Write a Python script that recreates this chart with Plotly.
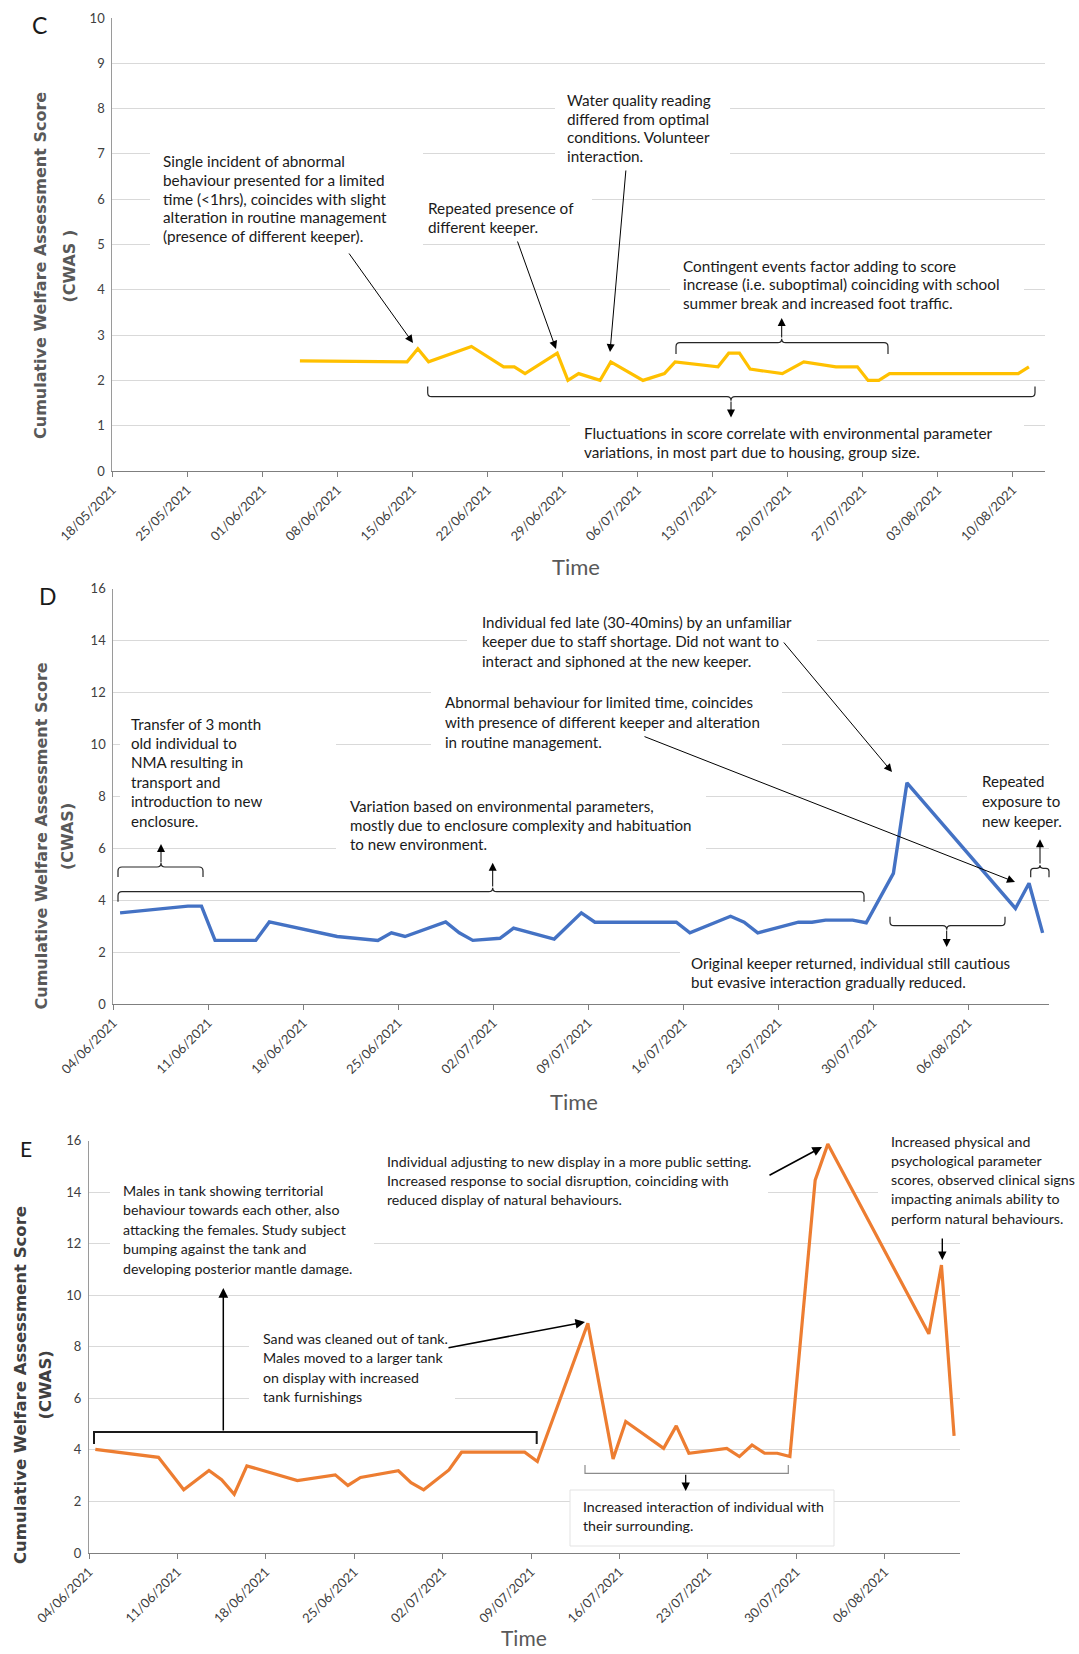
import plotly.graph_objects as go
import pandas as pd

W, H = 1079, 1654

# ---------------- data ----------------
dates_c = ["2021-06-04", "2021-06-14", "2021-06-15", "2021-06-16", "2021-06-20", "2021-06-23",
           "2021-06-24", "2021-06-25", "2021-06-28", "2021-06-29", "2021-06-30", "2021-07-02",
           "2021-07-03", "2021-07-06", "2021-07-08", "2021-07-09", "2021-07-13", "2021-07-14",
           "2021-07-15", "2021-07-16", "2021-07-19", "2021-07-21", "2021-07-24", "2021-07-26",
           "2021-07-27", "2021-07-28", "2021-07-29", "2021-08-10", "2021-08-11"]
cwas_c = [2.43, 2.41, 2.7, 2.41, 2.75, 2.3, 2.3, 2.15, 2.6, 2.0, 2.15, 2.0, 2.41, 2.0, 2.15,
          2.41, 2.3, 2.6, 2.6, 2.25, 2.15, 2.41, 2.3, 2.3, 2.0, 2.0, 2.15, 2.15, 2.3]

dates_d = ["2021-06-04", "2021-06-09", "2021-06-10", "2021-06-11", "2021-06-14", "2021-06-15",
           "2021-06-20", "2021-06-23", "2021-06-24", "2021-06-25", "2021-06-28", "2021-06-29",
           "2021-06-30", "2021-07-02", "2021-07-03", "2021-07-06", "2021-07-08", "2021-07-09",
           "2021-07-15", "2021-07-16", "2021-07-19", "2021-07-20", "2021-07-21", "2021-07-24",
           "2021-07-25", "2021-07-26", "2021-07-28", "2021-07-29", "2021-07-31", "2021-08-01",
           "2021-08-09", "2021-08-10", "2021-08-11"]
cwas_d = [3.51, 3.77, 3.77, 2.45, 2.45, 3.16, 2.6, 2.45, 2.74, 2.6, 3.16, 2.74, 2.45, 2.53,
          2.92, 2.5, 3.51, 3.15, 3.15, 2.74, 3.38, 3.15, 2.74, 3.15, 3.15, 3.23, 3.23, 3.13,
          5.03, 8.52, 3.68, 4.65, 2.74]

dates_e = ["2021-06-04", "2021-06-09", "2021-06-11", "2021-06-13", "2021-06-14", "2021-06-15",
           "2021-06-16", "2021-06-20", "2021-06-23", "2021-06-24", "2021-06-25", "2021-06-28",
           "2021-06-29", "2021-06-30", "2021-07-02", "2021-07-03", "2021-07-08", "2021-07-09",
           "2021-07-13", "2021-07-15", "2021-07-16", "2021-07-19", "2021-07-20", "2021-07-21",
           "2021-07-24", "2021-07-25", "2021-07-26", "2021-07-27", "2021-07-28", "2021-07-29",
           "2021-07-31", "2021-08-01", "2021-08-09", "2021-08-10", "2021-08-11"]
cwas_e = [4.02, 3.71, 2.45, 3.2, 2.84, 2.28, 3.38, 2.81, 3.03, 2.62, 2.93, 3.19, 2.73, 2.45,
          3.22, 3.91, 3.91, 3.55, 8.91, 3.65, 5.1, 4.06, 4.93, 3.87, 4.06, 3.74, 4.19, 3.87,
          3.87, 3.74, 14.46, 15.86, 8.5, 11.17, 4.54]

ticks_c = ["18/05/2021", "25/05/2021", "01/06/2021", "08/06/2021", "15/06/2021", "22/06/2021",
           "29/06/2021", "06/07/2021", "13/07/2021", "20/07/2021", "27/07/2021", "03/08/2021",
           "10/08/2021"]
ticks_de = ["04/06/2021", "11/06/2021", "18/06/2021", "25/06/2021", "02/07/2021", "09/07/2021",
            "16/07/2021", "23/07/2021", "30/07/2021", "06/08/2021"]

y_title = "Cumulative Welfare Assessment Score"

# ---------------- helpers ----------------
HALF = pd.Timedelta(hours=12)  # Excel date axis: points sit mid-day between tick marks


def tickpos(labels):
    return [pd.to_datetime(t, dayfirst=True) - HALF for t in labels]


def X(x):
    return x / W


def Y(y):
    return 1 - y / H


TICKFONT = dict(family="Lato", size=13, color="#404040")
fig = go.Figure()

fig.add_trace(go.Scatter(x=pd.to_datetime(dates_c), y=cwas_c, mode="lines",
                         line=dict(color="#FFC000", width=3.2), xaxis="x", yaxis="y",
                         hoverinfo="skip"))
fig.add_trace(go.Scatter(x=pd.to_datetime(dates_d), y=cwas_d, mode="lines",
                         line=dict(color="#4472C4", width=3.4), xaxis="x2", yaxis="y2",
                         hoverinfo="skip"))
fig.add_trace(go.Scatter(x=pd.to_datetime(dates_e), y=cwas_e, mode="lines",
                         line=dict(color="#ED7D31", width=3.2), xaxis="x3", yaxis="y3",
                         hoverinfo="skip"))


def xax(domain, labels, rng, anchor):
    return dict(domain=domain, anchor=anchor, type="date", range=rng, automargin=False,
                tickvals=tickpos(labels), ticktext=labels, tickangle=-45,
                tickfont=TICKFONT, showgrid=False, zeroline=False,
                showline=True, linecolor="#7f7f7f", linewidth=1.3,
                ticks="outside", ticklen=5, tickcolor="#7f7f7f", tickwidth=1)


def yax(domain, rng, dtick, anchor):
    return dict(domain=domain, anchor=anchor, range=rng, dtick=dtick, tick0=0, automargin=False,
                tickfont=TICKFONT, showgrid=True, gridcolor="#d9d9d9", gridwidth=1,
                zeroline=False, showline=True, linecolor="#9a9a9a", linewidth=1,
                ticks="", ticklabelstandoff=4)


rng_c = [pd.Timestamp("2021-05-18") - HALF, pd.Timestamp("2021-08-13") - HALF]
rng_de = [pd.Timestamp("2021-06-04") - HALF, pd.Timestamp("2021-08-12") - HALF]

fig.update_layout(
    template="none",
    width=W, height=H, margin=dict(l=0, r=0, t=0, b=0, autoexpand=False),
    paper_bgcolor="white", plot_bgcolor="white", showlegend=False,
    xaxis=xax([X(112.3), X(1045)], ticks_c, rng_c, "y"),
    yaxis=yax([Y(471), Y(18)], [0, 10], 1, "x"),
    xaxis2=xax([X(113.3), X(1049.4)], ticks_de, rng_de, "y2"),
    yaxis2=yax([Y(1004), Y(588.6)], [0, 16], 2, "x2"),
    xaxis3=xax([X(89), X(960.4)], ticks_de, rng_de, "y3"),
    yaxis3=yax([Y(1553), Y(1140.5)], [0, 16], 2, "x3"),
)

annots = []
shapes = []


def box(x0, y0, x1, y1, border=None):
    shapes.append(dict(type="rect", xref="paper", yref="paper", x0=X(x0), x1=X(x1),
                       y0=Y(y1), y1=Y(y0), fillcolor="white",
                       line=dict(width=1 if border else 0, color=border or "white"),
                       layer="above"))


def note(x_left, y_first, y_last, lines, size=15, color="#1a1a1a"):
    n = len(lines)
    step = (y_last - y_first) / (n - 1) if n > 1 else 0
    for i, s in enumerate(lines):
        annots.append(dict(xref="paper", yref="paper", x=X(x_left - 1), y=Y(y_first + i * step),
                           xanchor="left", yanchor="middle", align="left", text=s,
                           showarrow=False, font=dict(family="Lato", size=size, color=color)))


def arrow(tx, ty, hx, hy, width=1.0, color="black", size=1.6, head=2):
    annots.append(dict(xref="paper", yref="paper", x=X(hx), y=Y(hy), ax=tx - hx, ay=ty - hy,
                       axref="pixel", ayref="pixel", text="", showarrow=True,
                       arrowhead=head, arrowsize=size, arrowwidth=width, arrowcolor=color,
                       standoff=0, startstandoff=0))


def P(x, y):
    return f"{X(x):.5f},{Y(y):.5f}"


def brace(x0, x1, yh, yend, xm=None, color="#262626", width=1.2, r=4):
    d = 1 if yend > yh else -1
    s = f"M {P(x0, yend)} L {P(x0, yh + d * r)} Q {P(x0, yh)} {P(x0 + r, yh)}"
    if xm is not None:
        s += f" L {P(xm - r, yh)} Q {P(xm, yh)} {P(xm, yh - d * r)} Q {P(xm, yh)} {P(xm + r, yh)}"
    s += f" L {P(x1 - r, yh)} Q {P(x1, yh)} {P(x1, yh + d * r)} L {P(x1, yend)}"
    shapes.append(dict(type="path", xref="paper", yref="paper", path=s,
                       line=dict(color=color, width=width), layer="above"))


def rot(x, y, s, size=16, color="#595959"):
    annots.append(dict(xref="paper", yref="paper", x=X(x), y=Y(y), xanchor="center",
                       yanchor="middle", text=s, textangle=-90, showarrow=False,
                       font=dict(family="DejaVu Sans", size=size, color=color, weight="bold")))


def label(x, y, s, size=22, color="#1a1a1a"):
    annots.append(dict(xref="paper", yref="paper", x=X(x), y=Y(y), xanchor="center",
                       yanchor="middle", text=s, showarrow=False,
                       font=dict(family="Lato", size=size, color=color)))


# ---------------- panel C ----------------
FC = 15.3
box(150, 146, 423, 250)
box(412, 195, 592, 240)
box(555, 88, 730, 170)
box(670, 254, 1024, 315)
box(570, 420, 1024, 462)
note(162, 161, 236, ["Single incident of abnormal", "behaviour presented for a limited",
                     "time (&lt;1hrs), coincides with slight", "alteration in routine management",
                     "(presence of different keeper)."], FC)
note(427, 208, 227, ["Repeated presence of", "different keeper."], FC)
note(566, 100, 156, ["Water quality reading", "differed from optimal", "conditions. Volunteer",
                     "interaction."], FC)
note(682, 266, 303, ["Contingent events factor adding to score",
                     "increase (i.e. suboptimal) coinciding with school",
                     "summer break and increased foot traffic."], FC)
note(583, 433, 452, ["Fluctuations in score correlate with environmental parameter",
                     "variations, in most part due to housing, group size."], FC)
arrow(348, 252, 413, 343)
arrow(517, 240, 556, 349)
arrow(626, 169, 610, 352)
brace(676, 888, 342.7, 354, xm=781.7)
arrow(781.7, 339, 781.7, 318)
brace(427.7, 1035, 396.7, 386.5, xm=731)
arrow(731, 400, 731, 417.5)
rot(40, 266, y_title)
rot(68.5, 266, "(CWAS )")
label(39.5, 25, "C", 23)
label(576, 566, "Time", 22, "#595959")

# ---------------- panel D ----------------
FD = 15.1
box(120, 708, 336, 832)
box(336, 796, 706, 856)
box(467, 608, 817, 673)
box(431, 689, 782, 752)
box(967, 770, 1079, 832)
box(680, 950, 1051, 994)
note(130, 723.5, 820.5, ["Transfer of 3 month", "old individual to", "NMA resulting in",
                         "transport and", "introduction to new", "enclosure."], FD)
note(349, 806, 844, ["Variation based on environmental parameters,",
                     "mostly due to enclosure complexity and habituation",
                     "to new environment."], FD)
note(481, 622, 661, ["Individual fed late (30-40mins) by an unfamiliar",
                     "keeper due to staff shortage. Did not want to",
                     "interact and siphoned at the new keeper."], FD)
note(444, 702, 741.5, ["Abnormal behaviour for limited time, coincides",
                       "with presence of different keeper and alteration",
                       "in routine management."], FD)
note(981, 781.5, 820.5, ["Repeated", "exposure to", "new keeper."], FD)
note(690, 963, 982, ["Original keeper returned, individual still cautious",
                     "but evasive interaction gradually reduced."], FD)
arrow(782.6, 641, 892, 772)
arrow(643, 736, 1015, 882)
brace(118, 203, 867, 877, xm=161)
arrow(161, 864, 161, 844)
brace(118, 864, 891.7, 901.7, xm=492.7)
arrow(492.7, 888, 492.7, 862.7)
brace(1030.7, 1049, 868.3, 877.3, xm=1040, r=3)
arrow(1040, 865, 1040, 839.3)
brace(890, 1005, 925.7, 916.7, xm=946.7)
arrow(946.7, 929, 946.7, 947)
rot(41, 836.5, y_title)
rot(67.5, 836.5, "(CWAS)")
label(48, 596, "D", 23)
label(574, 1101, "Time", 22, "#595959")

# ---------------- panel E ----------------
FE = 14.2
box(110, 1178, 374, 1282)
box(249, 1324, 455, 1410)
box(374, 1146, 768, 1214)
box(878, 1126, 1079, 1226)
box(570, 1490, 834, 1546, border="#e3e3e3")
note(122, 1190, 1268, ["Males in tank showing territorial", "behaviour towards each other, also",
                       "attacking the females. Study subject", "bumping against the tank and",
                       "developing posterior mantle damage."], FE)
note(261.5, 1338.5, 1396.5, ["Sand was cleaned out of tank.", "Males moved to a larger tank",
                             "on display with increased", "tank furnishings"], FE)
note(386, 1161, 1199, ["Individual adjusting to new display in a more public setting.",
                       "Increased response to social disruption, coinciding with",
                       "reduced display of natural behaviours."], FE)
note(890, 1141, 1218, ["Increased physical and", "psychological parameter",
                       "scores, observed clinical signs", "impacting animals ability to",
                       "perform natural behaviours."], FE)
note(582, 1506, 1525, ["Increased interaction of individual with", "their surrounding."], FE)
shapes.append(dict(type="path", xref="paper", yref="paper",
                   path=f"M {P(94, 1444)} L {P(94, 1432)} L {P(536.7, 1432)} L {P(536.7, 1444)}",
                   line=dict(color="#1a1a1a", width=2), layer="above"))
arrow(223.3, 1432, 223.3, 1288, width=1.5, size=1.3)
arrow(447, 1348, 585, 1322, width=1.6, size=1.2)
arrow(768, 1176, 822, 1147, width=1.6, size=1.2)
arrow(942.3, 1237, 942.3, 1260, width=1.4, size=1.2)
shapes.append(dict(type="path", xref="paper", yref="paper",
                   path=f"M {P(585, 1465)} L {P(585, 1473.3)} L {P(788.3, 1473.3)} L {P(788.3, 1465)}",
                   line=dict(color="#8c8c8c", width=1.2), layer="above"))
arrow(685.7, 1473.3, 685.7, 1491, width=1.2, size=1.4)
rot(20.5, 1385.5, y_title, 16.5, "#404040")
rot(45, 1385.5, "(CWAS)", 16.5, "#404040")
label(26, 1148, "E", 21)
label(524, 1637, "Time", 21, "#595959")

fig.update_layout(annotations=annots, shapes=shapes)
fig.write_html("out.html", config={"displayModeBar": False},
               post_script="document.body.style.margin='0';document.body.style.overflow='hidden';")
